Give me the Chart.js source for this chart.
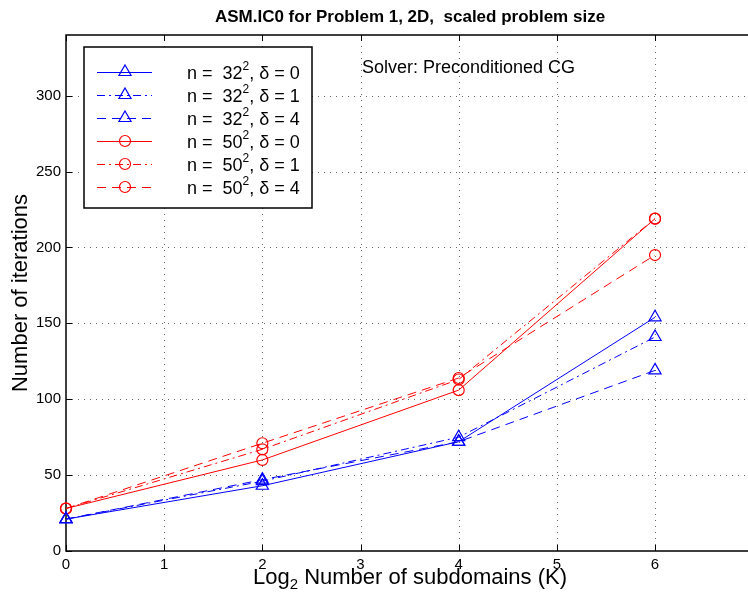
<!DOCTYPE html>
<html>
<head>
<meta charset="utf-8">
<script src="https://cdn.jsdelivr.net/npm/chart.js@4.4.0/dist/chart.umd.min.js"></script>
<style>
html,body{margin:0;padding:0;background:#fff;}
#wrap{width:748px;height:598px;position:relative;}
</style>
</head>
<body>
<div id="wrap"><canvas id="c" width="748" height="598"></canvas></div>
<script>
// ---- data ----
const xValues = [0, 2, 4, 6];
const n32d0 = [21, 43, 72, 154];
const n32d1 = [21, 46, 75, 141];
const n32d4 = [21, 47, 72, 119];
const n50d0 = [28, 60, 106, 219];
const n50d1 = [28, 67, 113, 219];
const n50d4 = [28, 71, 114, 195];
const seriesLabels = ['n =  32², δ = 0', 'n =  32², δ = 1', 'n =  32², δ = 4',
                      'n =  50², δ = 0', 'n =  50², δ = 1', 'n =  50², δ = 4'];
const xTicks = [0, 1, 2, 3, 4, 5, 6];
const yTicks = [0, 50, 100, 150, 200, 250, 300];
const titleText = 'ASM.IC0 for Problem 1, 2D,  scaled problem size';
const xTitle = 'Log₂ Number of subdomains (K)';
const yTitle = 'Number of iterations';
const noteText = 'Solver: Preconditioned CG';

const FONT = '"Liberation Sans", Arial, Helvetica, sans-serif';
const BLUE = '#0000ff', RED = '#ff0000';
const SOLID = [], DASHDOT = [8, 4, 2, 4], DASHED = [9, 6];

function mk(vals, label, color, dash, shape, r) {
  return {
    label: label,
    data: vals.map((v, i) => ({x: xValues[i], y: v})),
    borderColor: color, borderWidth: 1, borderDash: dash,
    pointStyle: shape, pointRadius: r, pointBorderColor: color,
    pointBackgroundColor: 'rgba(0,0,0,0)', pointBorderWidth: 1.2,
    fill: false, tension: 0, clip: false
  };
}
const datasets = [
  mk(n32d0, seriesLabels[0], BLUE, SOLID, 'triangle', 7),
  mk(n32d1, seriesLabels[1], BLUE, DASHDOT, 'triangle', 7),
  mk(n32d4, seriesLabels[2], BLUE, DASHED, 'triangle', 7),
  mk(n50d0, seriesLabels[3], RED, SOLID, 'circle', 5.5),
  mk(n50d1, seriesLabels[4], RED, DASHDOT, 'circle', 5.5),
  mk(n50d4, seriesLabels[5], RED, DASHED, 'circle', 5.5)
];

function drawScripted(ctx, text, x, y, size, mark, shift) {
  const parts = text.split(mark);
  ctx.font = size + 'px ' + FONT;
  ctx.fillText(parts[0], x, y);
  let cx = x + ctx.measureText(parts[0]).width;
  if (parts.length > 1) {
    const small = Math.round(size * 0.68);
    ctx.font = small + 'px ' + FONT;
    ctx.fillText('2', cx, y + shift);
    cx += ctx.measureText('2').width;
    ctx.font = size + 'px ' + FONT;
    ctx.fillText(parts[1], cx, y);
  }
}
function scriptedWidth(ctx, text, size, mark) {
  const parts = text.split(mark);
  ctx.font = size + 'px ' + FONT;
  let w = ctx.measureText(parts[0]).width;
  if (parts.length > 1) {
    w += ctx.measureText(parts[1]).width;
    ctx.font = Math.round(size * 0.68) + 'px ' + FONT;
    w += ctx.measureText('2').width;
  }
  return w;
}

const decor = {
  id: 'decor',
  afterLayout(chart) {
    // let the plot box run to the right edge of the canvas, like the reference
    const R = chart.width, a = chart.chartArea, xs = chart.scales.x;
    a.right = R; a.width = R - a.left;
    xs.right = R; xs.width = R - xs.left;
    xs.configure();
  },
  beforeDatasetsDraw(chart) {
    const ctx = chart.ctx, a = chart.chartArea;
    const xs = chart.scales.x, ys = chart.scales.y;
    const R = chart.width;
    ctx.save();
    ctx.strokeStyle = '#666';
    ctx.lineWidth = 1;
    ctx.setLineDash([1, 5]);
    xTicks.forEach(v => {
      if (v === 0) return;
      const px = Math.round(xs.getPixelForValue(v)) + 0.5;
      ctx.beginPath(); ctx.moveTo(px, a.bottom); ctx.lineTo(px, a.top); ctx.stroke();
    });
    yTicks.forEach(v => {
      if (v === 0) return;
      const py = Math.round(ys.getPixelForValue(v)) + 0.5;
      ctx.beginPath(); ctx.moveTo(a.left, py); ctx.lineTo(R, py); ctx.stroke();
    });
    ctx.setLineDash([]);
    ctx.strokeStyle = '#000';
    xTicks.forEach(v => {
      const px = Math.round(xs.getPixelForValue(v)) + 0.5;
      ctx.beginPath(); ctx.moveTo(px, a.bottom); ctx.lineTo(px, a.bottom - 6); ctx.stroke();
      ctx.beginPath(); ctx.moveTo(px, a.top); ctx.lineTo(px, a.top + 6); ctx.stroke();
    });
    yTicks.forEach(v => {
      const py = Math.round(ys.getPixelForValue(v)) + 0.5;
      ctx.beginPath(); ctx.moveTo(a.left, py); ctx.lineTo(a.left + 6, py); ctx.stroke();
    });
    ctx.lineWidth = 1.5;
    ctx.beginPath();
    ctx.moveTo(R, a.top); ctx.lineTo(a.left, a.top);
    ctx.lineTo(a.left, a.bottom); ctx.lineTo(R, a.bottom);
    ctx.stroke();
    ctx.restore();
  },
  afterDatasetsDraw(chart) {
    const ctx = chart.ctx;
    ctx.save();
    ctx.fillStyle = '#000';
    ctx.textBaseline = 'middle';
    ctx.font = 'bold 17px ' + FONT;
    ctx.textAlign = 'center';
    ctx.fillText(titleText, 410, 17);
    ctx.textAlign = 'left';
    const xw = scriptedWidth(ctx, xTitle, 22, '₂');
    drawScripted(ctx, xTitle, 410 - xw / 2, 578, 22, '₂', 7);
    ctx.save();
    ctx.translate(21, 293);
    ctx.rotate(-Math.PI / 2);
    ctx.textAlign = 'center';
    ctx.font = '22px ' + FONT;
    ctx.fillText(yTitle, 0, 0);
    ctx.restore();
    ctx.font = '18px ' + FONT;
    ctx.textAlign = 'left';
    ctx.fillText(noteText, 362, 68);
    const bx = 84, by = 47, bw = 228, bh = 161;
    ctx.fillStyle = '#fff';
    ctx.fillRect(bx, by, bw, bh);
    ctx.strokeStyle = '#000'; ctx.lineWidth = 1.5;
    ctx.strokeRect(bx, by, bw, bh);
    chart.data.datasets.forEach((ds, i) => {
      const y = 72 + i * 23;
      ctx.strokeStyle = ds.borderColor; ctx.lineWidth = 1;
      ctx.setLineDash(ds.borderDash);
      ctx.beginPath(); ctx.moveTo(97, y + 0.5); ctx.lineTo(152, y + 0.5); ctx.stroke();
      ctx.setLineDash([]);
      ctx.lineWidth = 1.2;
      ctx.fillStyle = 'rgba(0,0,0,0)';
      Chart.helpers.drawPoint(ctx, {pointStyle: ds.pointStyle, radius: ds.pointRadius, rotation: 0, borderWidth: 1.2}, 125, y);
      ctx.fillStyle = '#000';
      ctx.textAlign = 'left';
      drawScripted(ctx, ds.label, 187, y + 2, 18, '²', -7);
    });
    ctx.restore();
  }
};

new Chart(document.getElementById('c'), {
  type: 'line',
  data: {datasets: datasets},
  options: {
    responsive: false,
    animation: false,
    devicePixelRatio: 1,
    layout: {padding: {top: 35, left: 0, right: 0, bottom: 0}},
    plugins: {legend: {display: false}, title: {display: false}, tooltip: {enabled: false}},
    scales: {
      x: {
        type: 'linear', min: 0, max: 6.947,
        grid: {display: false, drawTicks: false}, border: {display: false},
        afterBuildTicks: s => { s.ticks = xTicks.map(v => ({value: v})); },
        afterFit: s => { s.height = 47; },
        ticks: {padding: 5, font: {family: FONT, size: 15}, color: '#000', maxRotation: 0, autoSkip: false}
      },
      y: {
        type: 'linear', min: 0, max: 340,
        grid: {display: false, drawTicks: false}, border: {display: false},
        afterBuildTicks: s => { s.ticks = yTicks.map(v => ({value: v})); },
        afterFit: s => { s.width = 66; },
        ticks: {padding: 5, font: {family: FONT, size: 15}, color: '#000', autoSkip: false}
      }
    }
  },
  plugins: [decor]
});
</script>
</body>
</html>
